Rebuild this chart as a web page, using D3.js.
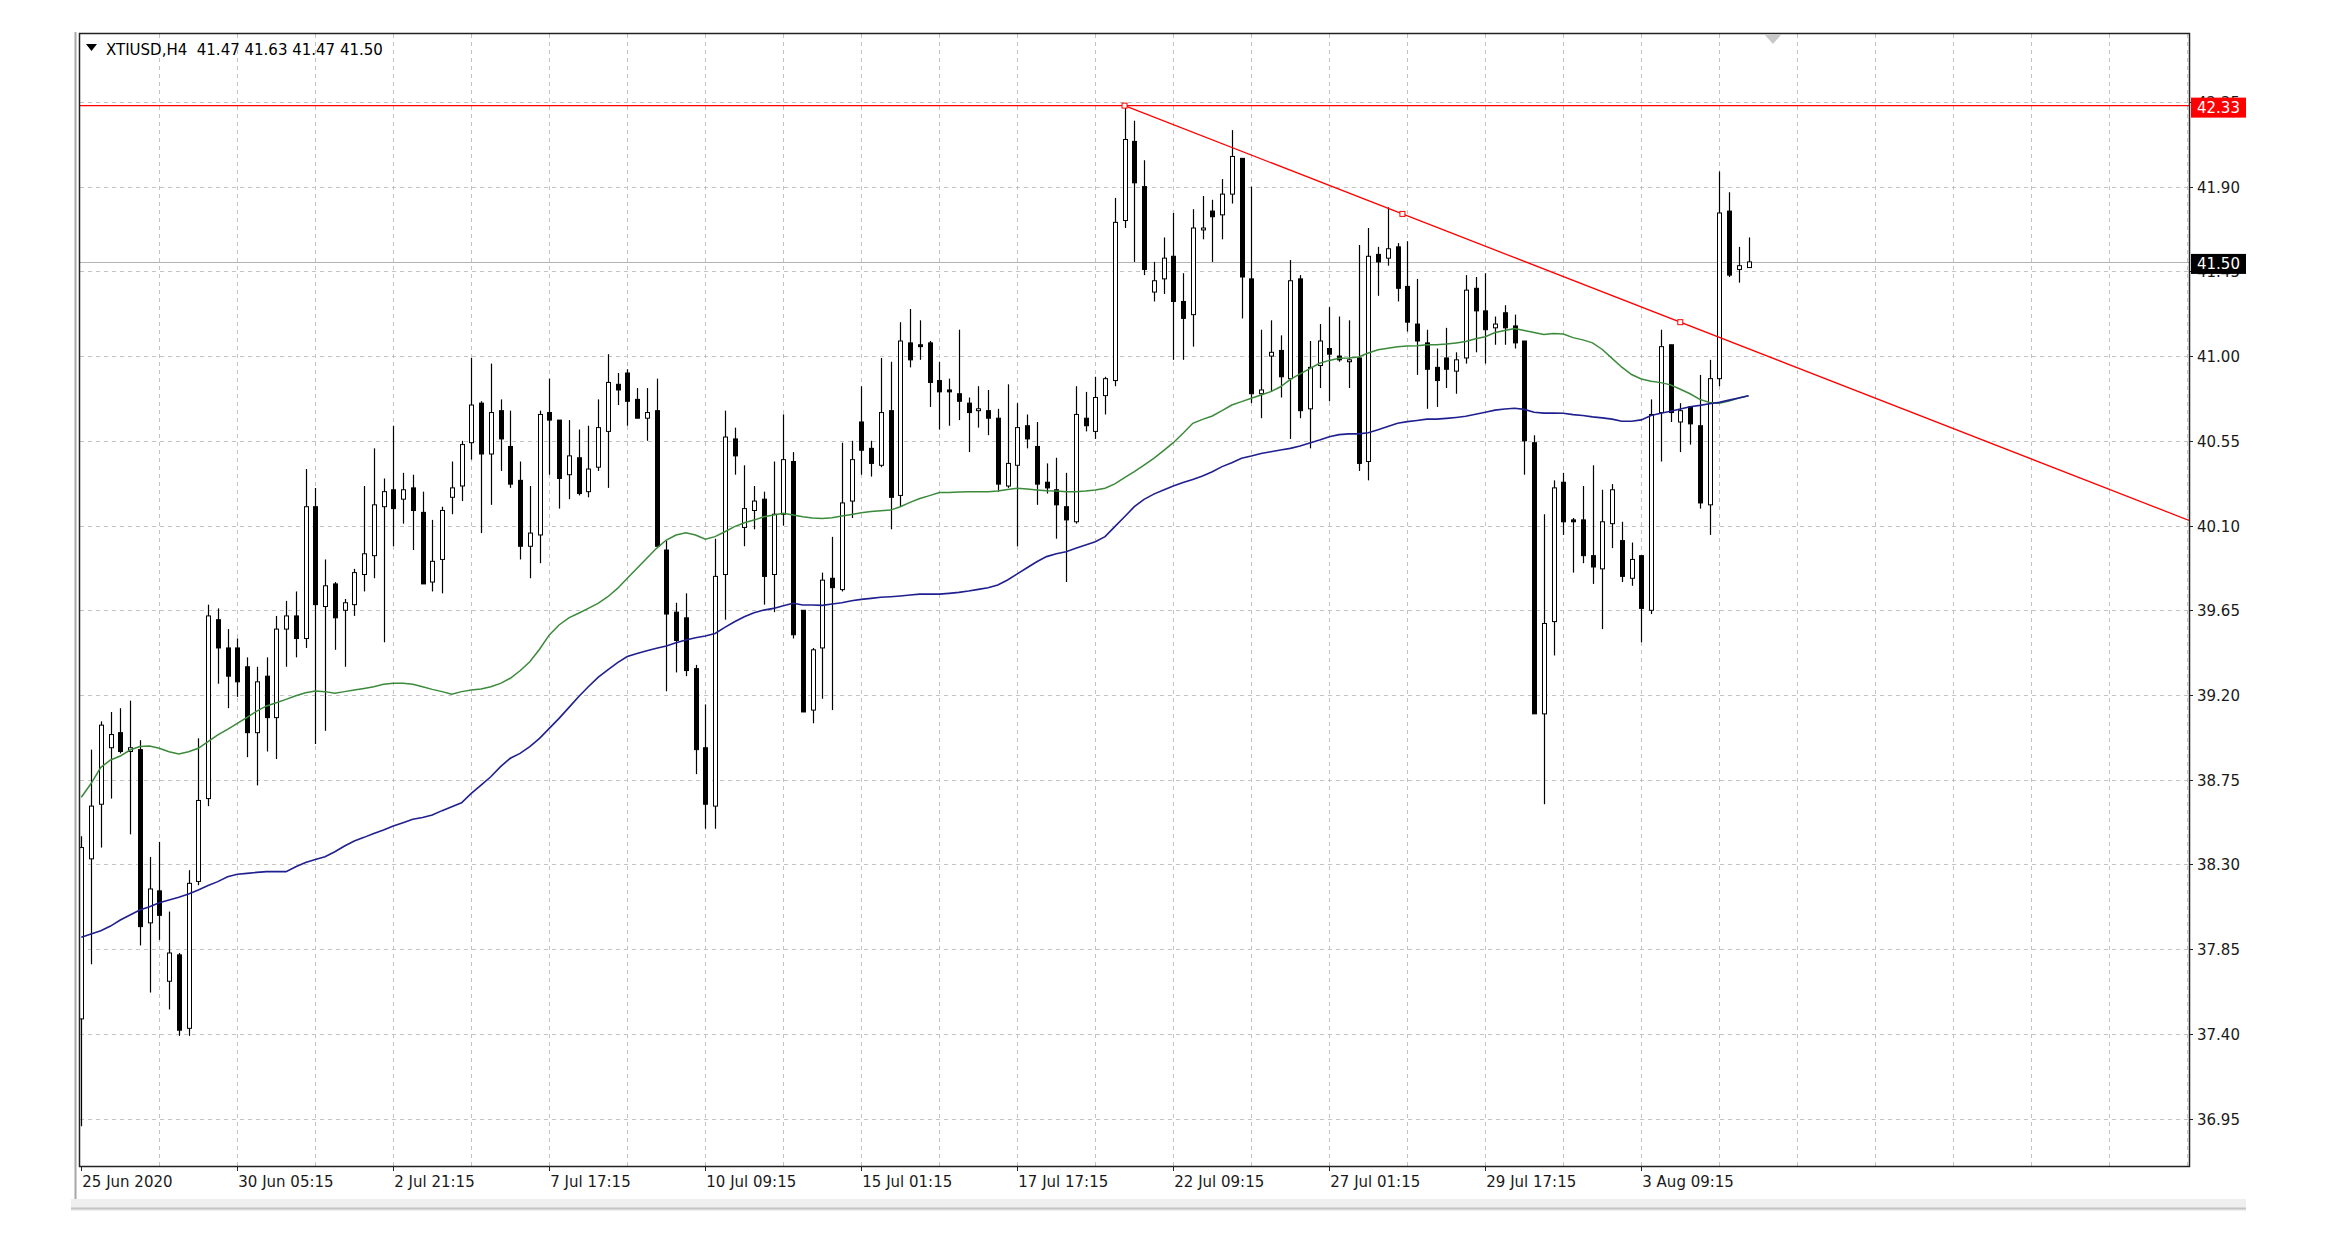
<!DOCTYPE html>
<html>
<head>
<meta charset="utf-8">
<script src="https://cdn.jsdelivr.net/npm/d3@7"></script>
<style>
  html, body { margin: 0; padding: 0; background: #fff; }
  svg text { font-family: "DejaVu Sans", Verdana, sans-serif; }
</style>
</head>
<body>
<svg id="chart" width="2338" height="1252"></svg>
<script>
// H4 candles, [open, high, low, close]
var candles = [
  [37.48, 38.45, 36.91, 38.39], [38.33, 38.91, 37.77, 38.61], [38.62, 39.06, 38.39, 39.04], [38.92, 39.11, 38.65, 38.99],
  [39.00, 39.13, 38.89, 38.90], [38.90, 39.17, 38.46, 38.92], [38.91, 38.96, 37.87, 37.97], [37.99, 38.34, 37.62, 38.17],
  [38.16, 38.42, 37.90, 38.03], [37.68, 38.05, 37.53, 37.83], [37.82, 37.83, 37.39, 37.42], [37.43, 38.27, 37.39, 38.20],
  [38.21, 38.97, 38.19, 38.64], [38.65, 39.68, 38.61, 39.62], [39.60, 39.66, 39.26, 39.45], [39.45, 39.55, 39.13, 39.30],
  [39.45, 39.50, 39.19, 39.27], [39.35, 39.40, 38.87, 39.00], [39.00, 39.35, 38.72, 39.27], [39.30, 39.40, 38.90, 39.08],
  [39.08, 39.62, 38.86, 39.55], [39.55, 39.70, 39.35, 39.62], [39.62, 39.75, 39.40, 39.50], [39.50, 40.40, 39.45, 40.20],
  [40.20, 40.30, 38.94, 39.68], [39.67, 39.92, 39.01, 39.78], [39.79, 39.80, 39.44, 39.61], [39.65, 39.71, 39.35, 39.69],
  [39.68, 39.87, 39.62, 39.85], [39.84, 40.31, 39.75, 39.95], [39.94, 40.51, 39.82, 40.21], [40.20, 40.35, 39.48, 40.28],
  [40.29, 40.63, 39.99, 40.19], [40.24, 40.38, 40.11, 40.29], [40.30, 40.37, 39.97, 40.18], [40.17, 40.28, 39.79, 39.79],
  [39.80, 40.13, 39.75, 39.91], [39.92, 40.20, 39.74, 40.18], [40.25, 40.44, 40.16, 40.30], [40.31, 40.55, 40.23, 40.53],
  [40.54, 40.99, 40.45, 40.74], [40.75, 40.76, 40.06, 40.48], [40.48, 40.96, 40.21, 40.70], [40.71, 40.77, 40.39, 40.56],
  [40.52, 40.71, 40.30, 40.32], [40.34, 40.44, 39.92, 39.99], [39.99, 40.31, 39.82, 40.06], [40.05, 40.71, 39.90, 40.69],
  [40.70, 40.88, 40.37, 40.66], [40.66, 40.66, 40.19, 40.35], [40.37, 40.66, 40.24, 40.47], [40.46, 40.61, 40.26, 40.27],
  [40.28, 40.63, 40.25, 40.40], [40.41, 40.77, 40.39, 40.62], [40.60, 41.01, 40.30, 40.86], [40.85, 40.91, 40.74, 40.82],
  [40.91, 40.93, 40.63, 40.76], [40.77, 40.83, 40.67, 40.67], [40.67, 40.83, 40.55, 40.70], [40.71, 40.88, 39.99, 39.99],
  [39.97, 40.02, 39.22, 39.63], [39.64, 39.69, 39.32, 39.49], [39.61, 39.74, 39.30, 39.33], [39.34, 39.36, 38.78, 38.91],
  [38.92, 39.15, 38.49, 38.62], [38.61, 40.03, 38.49, 39.83], [39.84, 40.71, 39.60, 40.57], [40.56, 40.62, 40.37, 40.47],
  [40.09, 40.42, 39.99, 40.19], [40.18, 40.31, 40.08, 40.23], [40.24, 40.28, 39.68, 39.83], [39.84, 40.44, 39.64, 40.16],
  [40.16, 40.69, 40.10, 40.45], [40.44, 40.49, 39.50, 39.52], [39.65, 39.65, 39.11, 39.11], [39.12, 39.45, 39.05, 39.44],
  [39.45, 39.85, 39.18, 39.81], [39.82, 40.04, 39.12, 39.77], [39.76, 40.54, 39.75, 40.22], [40.23, 40.55, 40.14, 40.45],
  [40.65, 40.84, 40.37, 40.50], [40.51, 40.55, 40.36, 40.43], [40.42, 40.99, 40.41, 40.70], [40.71, 40.97, 40.08, 40.25],
  [40.26, 41.18, 40.20, 41.08], [41.07, 41.25, 40.94, 40.98], [41.06, 41.19, 40.98, 41.05], [41.07, 41.08, 40.73, 40.86],
  [40.87, 40.97, 40.61, 40.81], [40.82, 40.88, 40.63, 40.81], [40.80, 41.14, 40.66, 40.76], [40.75, 40.78, 40.49, 40.70],
  [40.71, 40.84, 40.62, 40.72], [40.71, 40.82, 40.58, 40.67], [40.67, 40.72, 40.28, 40.32], [40.31, 40.85, 40.30, 40.43],
  [40.42, 40.75, 39.99, 40.62], [40.63, 40.69, 40.51, 40.56], [40.52, 40.65, 40.21, 40.32], [40.33, 40.43, 40.27, 40.30],
  [40.29, 40.46, 40.03, 40.21], [40.20, 40.38, 39.80, 40.13], [40.12, 40.84, 40.11, 40.69], [40.67, 40.81, 40.60, 40.63],
  [40.60, 40.89, 40.56, 40.78], [40.79, 40.89, 40.69, 40.88], [40.87, 41.84, 40.84, 41.71], [41.72, 42.33, 41.68, 42.15],
  [42.14, 42.25, 41.50, 41.92], [41.90, 42.04, 41.43, 41.46], [41.34, 41.50, 41.29, 41.40], [41.41, 41.63, 41.33, 41.52],
  [41.53, 41.76, 40.98, 41.29], [41.29, 41.44, 40.98, 41.20], [41.22, 41.78, 41.05, 41.68], [41.67, 41.85, 41.62, 41.68],
  [41.77, 41.83, 41.50, 41.74], [41.75, 41.94, 41.62, 41.86], [41.86, 42.20, 41.81, 42.06], [42.05, 42.05, 41.20, 41.42],
  [41.41, 41.90, 40.75, 40.80], [40.80, 41.14, 40.67, 40.82], [41.00, 41.19, 40.81, 41.02], [41.03, 41.11, 40.78, 40.89],
  [40.88, 41.51, 40.56, 41.40], [41.41, 41.43, 40.67, 40.71], [40.72, 41.08, 40.51, 40.94], [40.95, 41.17, 40.83, 41.08],
  [41.04, 41.26, 40.76, 41.01], [41.00, 41.21, 40.97, 40.98], [40.97, 41.19, 40.83, 40.98], [40.99, 41.59, 40.39, 40.43],
  [40.44, 41.68, 40.34, 41.53], [41.54, 41.58, 41.32, 41.50], [41.52, 41.79, 41.48, 41.57], [41.58, 41.60, 41.29, 41.36],
  [41.37, 41.61, 41.13, 41.18], [41.17, 41.41, 40.90, 41.08], [41.07, 41.14, 40.72, 40.93], [40.94, 41.04, 40.73, 40.87],
  [40.99, 41.15, 40.83, 40.93], [40.92, 41.02, 40.80, 40.98], [40.99, 41.43, 40.96, 41.35], [41.36, 41.42, 41.02, 41.24],
  [41.24, 41.44, 40.96, 41.14], [41.15, 41.21, 41.06, 41.17], [41.23, 41.27, 41.06, 41.15], [41.16, 41.22, 41.04, 41.07],
  [41.08, 41.08, 40.37, 40.55], [40.54, 40.58, 39.10, 39.10], [39.10, 40.16, 38.62, 39.58], [39.59, 40.34, 39.41, 40.30],
  [40.33, 40.38, 40.05, 40.12], [40.13, 40.14, 39.85, 40.12], [40.13, 40.31, 39.90, 39.94], [39.94, 40.42, 39.79, 39.88],
  [39.87, 40.29, 39.55, 40.12], [40.11, 40.32, 39.98, 40.29], [40.02, 40.12, 39.80, 39.83], [39.82, 40.01, 39.78, 39.92],
  [39.94, 39.94, 39.48, 39.66], [39.65, 40.77, 39.63, 40.69], [40.70, 41.14, 40.44, 41.05], [41.06, 41.06, 40.65, 40.70],
  [40.65, 40.75, 40.49, 40.71], [40.73, 40.73, 40.53, 40.64], [40.63, 40.90, 40.19, 40.22], [40.21, 40.98, 40.05, 40.88],
  [40.88, 41.98, 40.84, 41.76], [41.77, 41.87, 41.42, 41.43], [41.46, 41.58, 41.39, 41.48], [41.47, 41.63, 41.47, 41.50]
];

// moving averages, one value per bar (green = fast, navy = slow)
var maFast = [
  38.657, 38.73, 38.816, 38.855, 38.876, 38.908, 38.926, 38.929, 38.917, 38.899, 38.887, 38.899, 38.917, 38.952, 38.988, 39.018,
  39.05, 39.081, 39.115, 39.142, 39.159, 39.177, 39.196, 39.212, 39.221, 39.218,
  39.209, 39.218, 39.227, 39.235, 39.244, 39.257, 39.262, 39.262, 39.257, 39.244, 39.23, 39.218, 39.204, 39.218, 39.227, 39.232,
  39.244, 39.262, 39.289, 39.329, 39.377, 39.443, 39.519, 39.572, 39.61,
  39.634, 39.66, 39.687, 39.722, 39.766, 39.82, 39.873, 39.926, 39.979, 40.023, 40.05, 40.062, 40.05, 40.027, 40.041, 40.067,
  40.094, 40.115, 40.129, 40.147, 40.156, 40.165, 40.156, 40.147, 40.14,
  40.138, 40.142, 40.151, 40.159, 40.168, 40.174, 40.179, 40.182, 40.20, 40.223, 40.244, 40.259, 40.275, 40.276, 40.278, 40.28,
  40.28, 40.28, 40.283, 40.292, 40.298, 40.294, 40.289, 40.285, 40.283,
  40.28, 40.28, 40.283, 40.289, 40.298, 40.321, 40.354, 40.386, 40.421, 40.457, 40.498, 40.54, 40.59, 40.643, 40.664, 40.682,
  40.71, 40.74, 40.758, 40.776, 40.793, 40.811, 40.837, 40.876, 40.905, 40.933,
  40.962, 40.977, 40.988, 40.99, 40.995, 41.016, 41.034, 41.042, 41.049, 41.053, 41.055, 41.06, 41.06, 41.064, 41.07, 41.077,
  41.092, 41.103, 41.125, 41.136, 41.146, 41.136, 41.125, 41.114, 41.12,
  41.117, 41.098, 41.086, 41.07, 41.035, 40.988, 40.941, 40.902, 40.878, 40.866, 40.859, 40.847, 40.824, 40.80, 40.77, 40.754,
  40.749, 40.761, 40.777, 40.789
];
var maSlow = [
  37.913, 37.931, 37.948, 37.973, 38.005, 38.032, 38.058, 38.076, 38.097, 38.111, 38.126, 38.143, 38.165, 38.188, 38.209, 38.235,
  38.248, 38.253, 38.258, 38.262, 38.262, 38.262, 38.288, 38.31, 38.327, 38.341,
  38.368, 38.398, 38.425, 38.444, 38.465, 38.483, 38.504, 38.522, 38.54, 38.55, 38.563, 38.586, 38.607, 38.628, 38.678, 38.722,
  38.766, 38.82, 38.864, 38.89, 38.926, 38.97, 39.023, 39.076, 39.133,
  39.191, 39.244, 39.294, 39.333, 39.372, 39.404, 39.421, 39.435, 39.448, 39.46, 39.478, 39.492, 39.504, 39.513, 39.527, 39.559,
  39.589, 39.616, 39.637, 39.651, 39.66, 39.674, 39.687, 39.678, 39.678,
  39.676, 39.683, 39.69, 39.701, 39.708, 39.713, 39.719, 39.722, 39.726, 39.731, 39.736, 39.736, 39.736, 39.74, 39.745, 39.752,
  39.761, 39.77, 39.784, 39.811, 39.843, 39.876, 39.908, 39.935, 39.95,
  39.961, 39.979, 39.997, 40.014, 40.041, 40.094, 40.147, 40.20, 40.239, 40.267, 40.289, 40.31, 40.328, 40.345, 40.363, 40.386,
  40.413, 40.434, 40.457, 40.469, 40.483, 40.492, 40.501, 40.51, 40.522, 40.538,
  40.554, 40.572, 40.583, 40.587, 40.587, 40.593, 40.609, 40.626, 40.643, 40.652, 40.658, 40.665, 40.665, 40.669, 40.674, 40.68,
  40.691, 40.702, 40.713, 40.719, 40.723, 40.717, 40.702, 40.697, 40.697,
  40.696, 40.689, 40.684, 40.677, 40.672, 40.665, 40.654, 40.654, 40.661, 40.684, 40.696, 40.707, 40.719, 40.731, 40.738, 40.747,
  40.754, 40.766, 40.777, 40.789
];

var priceTicks = [36.95, 37.40, 37.85, 38.30, 38.75, 39.20, 39.65, 40.10, 40.55, 41.00, 41.45, 41.90, 42.35];
var dateLabels = ["25 Jun 2020", "30 Jun 05:15", "2 Jul 21:15", "7 Jul 17:15", "10 Jul 09:15", "15 Jul 01:15",
                  "17 Jul 17:15", "22 Jul 09:15", "27 Jul 01:15", "29 Jul 17:15", "3 Aug 09:15"];
var dateBars = [0, 16, 32, 48, 64, 80, 96, 112, 128, 144, 160];

var title = "XTIUSD,H4  41.47 41.63 41.47 41.50";
var levelPrice = 42.33;          // horizontal line
var bidPrice = 41.50;            // bid line
var trendPoints = [[107, 42.33], [164, 41.18]];   // [bar, price], drawn as a ray

// Dimensions
var plot = { left: 80, top: 34, right: 2189, bottom: 1166 },
    barStep = 9.75,
    gridEvery = 8;

var x = d3.scaleLinear().domain([0, 1]).range([81.3, 81.3 + barStep]);
var y = d3.scaleLinear().domain([36.95, 41.90]).range([1118.7, 186.6]);
var lastGridBar = Math.floor(x.invert(plot.right));

var svg = d3.select('#chart');

// window frame bits
svg.append('line').attr('x1', 75.5).attr('x2', 75.5).attr('y1', 32).attr('y2', 1199)
    .attr('stroke', '#a8a8a8').attr('stroke-width', 2);
svg.append('rect').attr('x', 71).attr('y', 1199).attr('width', 2175).attr('height', 12).attr('fill', '#efefef');
svg.append('line').attr('x1', 71).attr('x2', 2246).attr('y1', 1208.5).attr('y2', 1208.5)
    .attr('stroke', '#c4c4c4').attr('stroke-width', 2);

svg.append('defs').append('clipPath').attr('id', 'plotClip')
    .append('rect').attr('x', plot.left).attr('y', plot.top)
    .attr('width', plot.right - plot.left).attr('height', plot.bottom - plot.top);

// grid
var grid = svg.append('g').attr('stroke', '#c3c3c3').attr('stroke-dasharray', '4,4').attr('stroke-width', 1);
grid.selectAll('.hg').data(priceTicks).enter().append('line')
    .attr('x1', plot.left).attr('x2', plot.right)
    .attr('y1', function (d) { return Math.round(y(d)) + 0.5; })
    .attr('y2', function (d) { return Math.round(y(d)) + 0.5; });
grid.selectAll('.vg').data(d3.range(gridEvery, lastGridBar + 1, gridEvery)).enter().append('line')
    .attr('y1', plot.top).attr('y2', plot.bottom)
    .attr('x1', function (d) { return Math.round(x(d)) + 0.5; })
    .attr('x2', function (d) { return Math.round(x(d)) + 0.5; });

var chart = svg.append('g').attr('clip-path', 'url(#plotClip)');

// bid line
chart.append('line').attr('x1', plot.left).attr('x2', plot.right)
    .attr('y1', Math.round(y(bidPrice)) + 0.5).attr('y2', Math.round(y(bidPrice)) + 0.5)
    .attr('stroke', '#b4b4b4').attr('stroke-width', 1);

// candles
var bars = chart.selectAll('.bar').data(candles).enter().append('g');
bars.append('line')
    .attr('x1', function (d, i) { return Math.round(x(i)) + 0.5; })
    .attr('x2', function (d, i) { return Math.round(x(i)) + 0.5; })
    .attr('y1', function (d) { return y(d[1]); })
    .attr('y2', function (d) { return y(d[2]); })
    .attr('stroke', '#000').attr('stroke-width', 1.2);
bars.append('rect')
    .attr('x', function (d, i) { return Math.round(x(i)) - 1.5; })
    .attr('width', 4)
    .attr('y', function (d) { return y(Math.max(d[0], d[3])); })
    .attr('height', function (d) { return Math.max(1, Math.abs(y(d[0]) - y(d[3]))); })
    .attr('fill', function (d) { return d[3] >= d[0] ? '#fff' : '#000'; })
    .attr('stroke', '#000').attr('stroke-width', 1);

// moving averages
var maLine = d3.line()
    .defined(function (d) { return d != null; })
    .x(function (d, i) { return x(i); })
    .y(function (d) { return y(d); });
chart.append('path').datum(maFast).attr('d', maLine)
    .attr('fill', 'none').attr('stroke', '#3b8a3b').attr('stroke-width', 1.5);
chart.append('path').datum(maSlow).attr('d', maLine)
    .attr('fill', 'none').attr('stroke', '#1f1f8f').attr('stroke-width', 1.6);

// horizontal level and trend ray
chart.append('line').attr('x1', plot.left).attr('x2', plot.right)
    .attr('y1', y(levelPrice)).attr('y2', y(levelPrice))
    .attr('stroke', '#ff0000').attr('stroke-width', 1.2);
var slope = (trendPoints[1][1] - trendPoints[0][1]) / (trendPoints[1][0] - trendPoints[0][0]);
var rayEnd = x.invert(plot.right);
chart.append('line')
    .attr('x1', x(trendPoints[0][0])).attr('y1', y(trendPoints[0][1]))
    .attr('x2', x(rayEnd)).attr('y2', y(trendPoints[0][1] + slope * (rayEnd - trendPoints[0][0])))
    .attr('stroke', '#ff0000').attr('stroke-width', 1.3);
var anchors = [trendPoints[0], [(trendPoints[0][0] + trendPoints[1][0]) / 2, (trendPoints[0][1] + trendPoints[1][1]) / 2], trendPoints[1]];
chart.selectAll('.anchor').data(anchors).enter().append('rect')
    .attr('x', function (d) { return x(d[0]) - 2.5; })
    .attr('y', function (d) { return y(d[1]) - 2.5; })
    .attr('width', 5).attr('height', 5)
    .attr('fill', '#fff').attr('stroke', '#ff0000').attr('stroke-width', 1);

// chart shift marker
var sx = x(173.5);
svg.append('path').attr('d', 'M' + (sx - 8) + ',' + (plot.top + 1) + 'L' + (sx + 8) + ',' + (plot.top + 1) + 'L' + sx + ',' + (plot.top + 10) + 'Z')
    .attr('fill', '#c8c8c8');

// plot border
svg.append('rect').attr('x', plot.left - 0.5).attr('y', plot.top - 0.5)
    .attr('width', plot.right - plot.left + 1).attr('height', plot.bottom - plot.top + 1)
    .attr('fill', 'none').attr('stroke', '#222').attr('stroke-width', 1.5);

// price axis
var yAxis = svg.append('g');
yAxis.selectAll('.tk').data(priceTicks).enter().append('line')
    .attr('x1', plot.right).attr('x2', plot.right + 4)
    .attr('y1', function (d) { return Math.round(y(d)) + 0.5; })
    .attr('y2', function (d) { return Math.round(y(d)) + 0.5; })
    .attr('stroke', '#222');
yAxis.selectAll('.lb').data(priceTicks).enter().append('text')
    .attr('x', plot.right + 8)
    .attr('y', function (d) { return y(d) + 6; })
    .attr('font-size', 15).attr('fill', '#1a1a1a')
    .text(function (d) { return d.toFixed(2); });

function priceTag(price, bg) {
  var g = svg.append('g');
  g.append('rect').attr('x', plot.right + 2).attr('y', y(price) - 8).attr('width', 55).attr('height', 20).attr('fill', bg);
  g.append('text').attr('x', plot.right + 8).attr('y', y(price) + 7.5)
      .attr('font-size', 15).attr('fill', '#fff').text(price.toFixed(2));
}
priceTag(levelPrice, '#ff0000');
priceTag(bidPrice, '#000');

// time axis
var xAxis = svg.append('g');
xAxis.selectAll('.tk').data(dateBars).enter().append('line')
    .attr('x1', function (d) { return Math.round(x(d)) + 0.5; })
    .attr('x2', function (d) { return Math.round(x(d)) + 0.5; })
    .attr('y1', plot.bottom).attr('y2', plot.bottom + 5)
    .attr('stroke', '#222');
xAxis.selectAll('.lb').data(dateBars).enter().append('text')
    .attr('x', function (d) { return Math.max(plot.left, x(d)) + 1; })
    .attr('y', plot.bottom + 21)
    .attr('font-size', 15).attr('fill', '#1a1a1a')
    .text(function (d, i) { return dateLabels[i]; });

// header
svg.append('path').attr('d', 'M86,44L97,44L91.5,51Z').attr('fill', '#000');
svg.append('text').attr('x', 106).attr('y', 55).attr('font-size', 15).attr('fill', '#000')
    .attr('xml:space', 'preserve').style('white-space', 'pre').text(title);
</script>
</body>
</html>
